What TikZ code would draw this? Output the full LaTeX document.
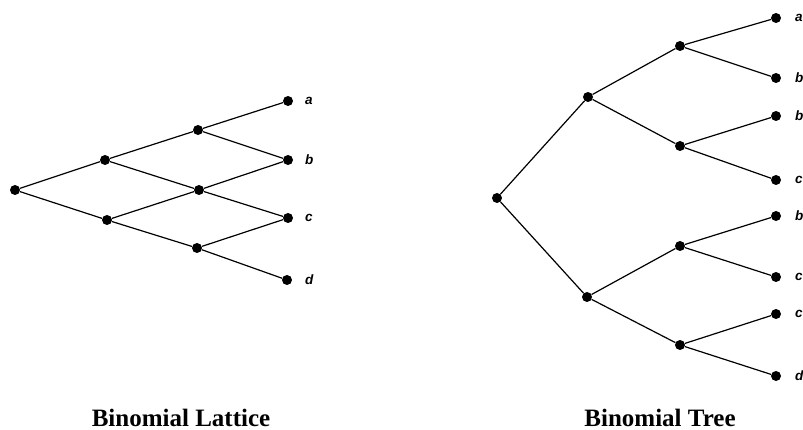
\documentclass[tikz,border=0pt]{standalone}
\usepackage{fontspec}
\setmainfont{Liberation Serif}
\newfontfamily\labfont{Liberation Sans}
\begin{document}
\begin{tikzpicture}[x=1pt,y=-1pt,
  dot/.style={circle,fill=black,inner sep=0pt,minimum size=10pt},
  edge/.style={line width=1.2pt},
  lab/.style={anchor=west,font=\labfont\bfseries\itshape\fontsize{13.5}{15}\selectfont,inner sep=0pt},
  ttl/.style={anchor=base,font=\bfseries\fontsize{25}{28}\selectfont,inner sep=0pt}]
\useasboundingbox (0,0) rectangle (803,430);
% Lattice
\node[dot] (L0) at (15,190) {};
\node[dot] (L1a) at (105,160) {};
\node[dot] (L1b) at (107,220) {};
\node[dot] (L2a) at (198,130) {};
\node[dot] (L2b) at (199,190) {};
\node[dot] (L2c) at (197,248) {};
\node[dot] (L3a) at (288,101) {};
\node[dot] (L3b) at (288,160) {};
\node[dot] (L3c) at (288,218) {};
\node[dot] (L3d) at (287,280) {};
\draw[edge] (L0)--(L1a) (L0)--(L1b)
  (L1a)--(L2a) (L1a)--(L2b) (L1b)--(L2b) (L1b)--(L2c)
  (L2a)--(L3a) (L2a)--(L3b) (L2b)--(L3b) (L2b)--(L3c) (L2c)--(L3c) (L2c)--(L3d);
\node[lab] (la) at (305,101) {a};
\node[lab] (lb) at (305,160) {b};
\node[lab] (lc) at (305,218) {c};
\node[lab] (ld) at (305,280) {d};
% Tree
\node[dot] (T0) at (497,198) {};
\node[dot] (T1a) at (588,97) {};
\node[dot] (T1b) at (587,297) {};
\node[dot] (T2a) at (680,46) {};
\node[dot] (T2b) at (680,146) {};
\node[dot] (T2c) at (680,246) {};
\node[dot] (T2d) at (680,345) {};
\node[dot] (T3a) at (776,18) {};
\node[dot] (T3b) at (776,78) {};
\node[dot] (T3c) at (776,116) {};
\node[dot] (T3d) at (776,180) {};
\node[dot] (T3e) at (776,216) {};
\node[dot] (T3f) at (776,277) {};
\node[dot] (T3g) at (776,314) {};
\node[dot] (T3h) at (776,376) {};
\draw[edge] (T0)--(T1a) (T0)--(T1b)
  (T1a)--(T2a) (T1a)--(T2b) (T1b)--(T2c) (T1b)--(T2d)
  (T2a)--(T3a) (T2a)--(T3b) (T2b)--(T3c) (T2b)--(T3d)
  (T2c)--(T3e) (T2c)--(T3f) (T2d)--(T3g) (T2d)--(T3h);
\node[lab] (ta) at (795,18) {a};
\node[lab] (tb) at (795,78) {b};
\node[lab] (tc) at (795,116) {b};
\node[lab] (td) at (795,180) {c};
\node[lab] (te) at (795,216) {b};
\node[lab] (tf) at (795,277) {c};
\node[lab] (tg) at (795,314) {c};
\node[lab] (th) at (795,376) {d};
% Titles
\node[ttl] (t1) at (181,426) {Binomial Lattice};
\node[ttl] (t2) at (660,426) {Binomial Tree};
\end{tikzpicture}
\end{document}
